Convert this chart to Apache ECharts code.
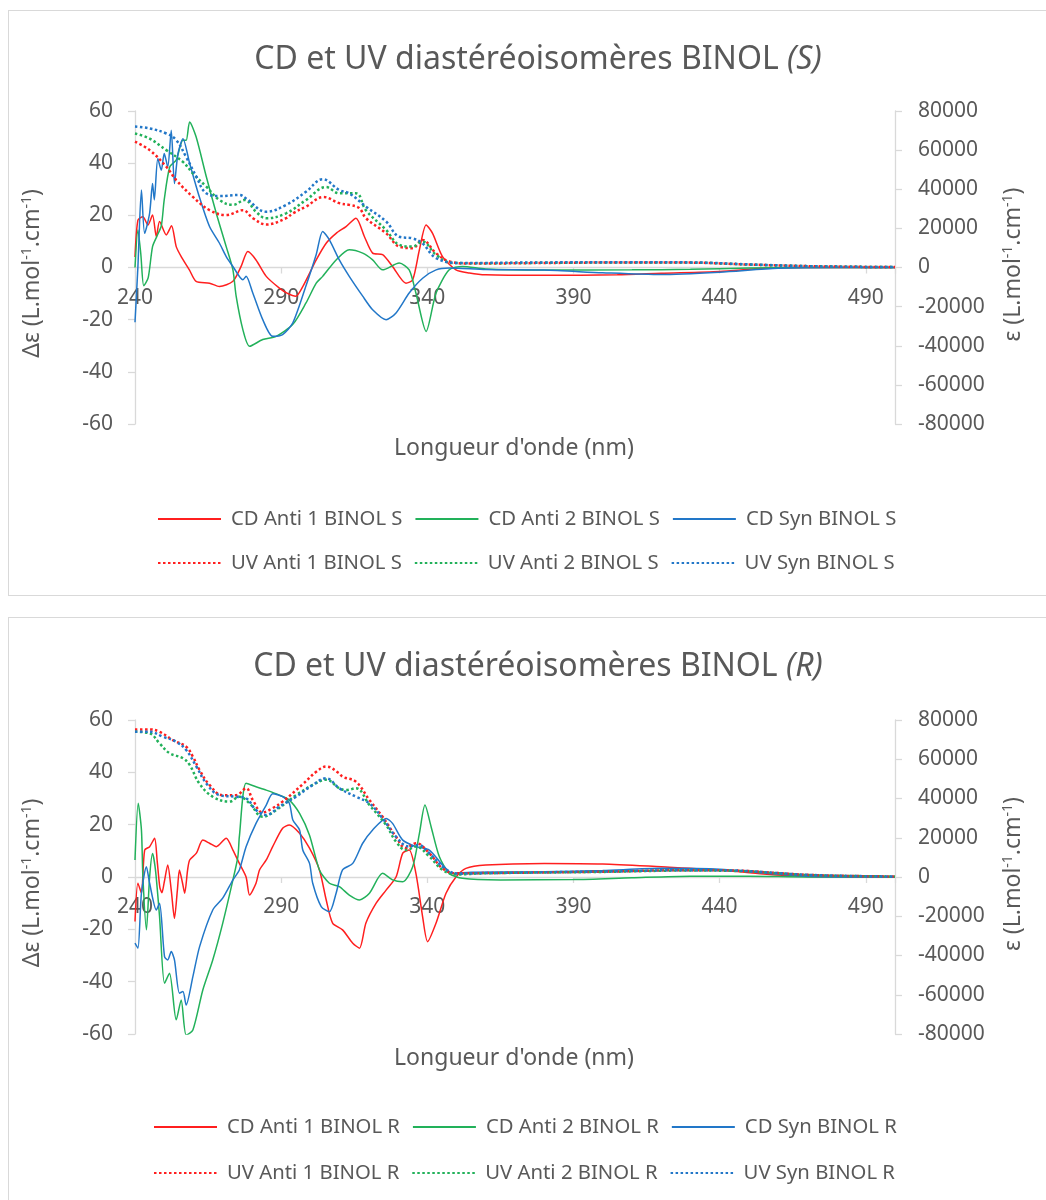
<!DOCTYPE html>
<html>
<head>
<meta charset="utf-8">
<script src="https://cdn.jsdelivr.net/npm/echarts@6/dist/echarts.min.js"></script>
<style>
  html, body { margin: 0; padding: 0; background: #ffffff; width: 1046px; height: 1200px; overflow: hidden; }
  .box { position: absolute; left: 8px; width: 1045px; box-sizing: border-box; border: 1px solid #D9D9D9; background: #fff; }
  #c1 { top: 10px; height: 586px; }
  #c2 { top: 617px; height: 600px; }
</style>
</head>
<body>
<div id="c1" class="box"></div>
<div id="c2" class="box"></div>
<script>
// ---------- DATA (wavelength nm, value) ----------
// Chart S : CD in Δε (left axis), UV in ε (right axis)
const cdAnti1S = [[240,4],[241,18.2],[242.7,19.5],[244.4,16.3],[246,20.1],[247.3,11.8],[248.4,17.6],[250.7,12.5],[252.5,16],[254.1,8],[255.8,4.2],[258.6,-0.9],[260.9,-5.3],[265.5,-6],[268.9,-7.3],[273.5,-5.3],[276.3,0.4],[278.6,6.1],[281.4,2.9],[284.9,-3.4],[289.4,-7.9],[292,-9.8],[295,-11],[297.4,-7.3],[302,2.9],[305.4,9.3],[308.8,13.1],[312.2,15.7],[315.6,18.9],[318.5,11.8],[321.3,5.5],[324.7,4.9],[328.1,0.4],[332.7,-6],[335,-4.7],[337.3,6.8],[339.6,16.3],[341.8,13.1],[345.2,4.2],[349.8,-0.9],[354.4,-2.1],[360,-2.8],[380,-3],[405,-2.8],[420,-2.2],[440,-1.5],[455,-0.3],[470,0],[500,0]];
const cdAnti2S = [[240,0],[241,14.4],[242,5],[243,-7],[244.5,-4],[246,8],[247.5,12],[249,16],[250,26],[251.9,38.6],[254.1,41.2],[256.4,48.8],[257.5,48.8],[258.7,55.8],[260.9,50.1],[264.4,34.8],[267.8,20.8],[271.2,8],[273.5,-0.9],[274.6,-11],[276.9,-23.8],[279.2,-30.2],[283.7,-27.6],[288.3,-26.4],[294,-21.8],[298.5,-13.6],[302,-6],[304.2,-3.4],[308.8,2.9],[313.3,6.8],[317.9,5.5],[321.3,2.9],[324.7,-0.9],[330.4,1.7],[333.8,-0.9],[336.1,-9.8],[339.6,-24.5],[343,-9.8],[347.5,-0.9],[352,0.4],[360,-0.6],[380,-1],[410,-0.9],[430,-0.7],[450,-0.2],[470,0],[500,0]];
const cdSynS = [[240,-21],[241,0.4],[242.2,29.7],[243.3,13.1],[245,20.8],[246,32.2],[246.6,25.9],[247.8,41.8],[249,37.3],[250,43.7],[251.2,38.6],[252.4,52.6],[253.5,32.2],[254.7,43.7],[256.4,49.4],[258.7,39.9],[262,27.1],[265.5,15.7],[268.9,9.3],[271.2,4.2],[273.5,0.4],[276.9,-4.7],[278,-3.4],[280.3,-9.8],[283.7,-20],[287.1,-26.4],[290.5,-25.7],[294,-21.2],[298.5,-7],[302,5],[304.2,13.8],[306.5,10.6],[309.9,2.9],[313.3,-3.4],[317.9,-11],[321.3,-16.2],[325.9,-20],[329.3,-17.4],[333.8,-9.8],[338.4,-4.1],[343,-0.9],[347.5,-0.2],[360,-0.8],[380,-1],[400,-2],[420,-2.7],[440,-1.8],[460,-0.3],[480,0],[500,0]];
const uvAnti1S = [[240,64300],[245,60000],[250.7,51500],[254.1,44700],[259.8,36100],[265.5,29300],[271.2,26800],[276.9,29300],[280.3,25200],[285,22000],[291.7,25200],[294,27700],[298.5,31100],[304.5,36000],[309.9,32900],[313.3,32000],[316.7,30400],[319,25200],[325.9,17500],[330.4,10700],[334.9,9900],[338.3,14100],[343,7300],[347.5,3100],[354.4,2000],[380,2300],[410,2600],[430,2500],[450,1500],[470,700],[490,300],[500,200]];
const uvAnti2S = [[240,68500],[245,65900],[250.7,60000],[256.4,54000],[259.8,48100],[264.4,41300],[268.9,34500],[273.5,32000],[277.5,34500],[281.4,28500],[284.9,25200],[291.7,27700],[298.5,34500],[305.4,41100],[309.9,37900],[315.6,37900],[319,29300],[325.9,19200],[330.4,11600],[334.9,10700],[338.3,13200],[343,6500],[348.6,2300],[360,2200],[380,2400],[410,2600],[430,2500],[450,1500],[470,700],[490,300],[500,200]];
const uvSynS = [[240,72100],[245,71100],[250.7,68500],[254.1,65100],[257.5,56500],[261,46400],[264.4,37900],[268.9,36500],[275.7,37100],[278,35300],[284.9,28500],[291.7,32000],[298.5,38700],[304.2,45100],[309.9,39600],[313.3,37900],[319,31100],[325.9,23500],[330.4,15700],[334.9,14900],[338.3,12400],[343,4800],[350.8,2300],[380,2600],[410,2700],[430,2600],[450,1600],[470,700],[490,300],[500,200]];

// Chart R
const cdAnti1R = [[240,-17],[241,-2.4],[242.2,-6.2],[243.3,10.3],[245,11.6],[246.7,14.8],[247.6,6],[248.5,-4],[249.2,-6],[250,-2],[251.2,4.6],[252.4,-5],[253.5,-15.8],[254.5,-5],[255.2,2.7],[256.2,-2],[257,-6.2],[258,2.7],[258.7,6.5],[261,9.1],[263.2,14.1],[265.5,12.9],[267.8,11.6],[271.2,14.8],[273.5,10.3],[275.7,5.2],[278,0],[279.2,-6.9],[281.4,-2.4],[282.6,2.7],[284.9,6.5],[287.1,11.6],[290.5,18.6],[292.8,19.9],[296.3,16.7],[299.7,11],[303.1,2.7],[305.4,-8.7],[307.6,-17.6],[311,-20.2],[314.5,-25.3],[316.8,-27.2],[319,-17.6],[322.5,-10],[325.9,-5],[329.3,0],[331.6,9.1],[333.8,10.3],[336.1,1.4],[338.4,-15.2],[340.1,-24.7],[343,-17.6],[346.4,-6.2],[349.8,0],[353.2,3.3],[360,4.6],[380,5.2],[400,5],[420,3.9],[440,2.7],[455,1.1],[470,0.2],[500,0]];
const cdAnti2R = [[240,6.5],[241.1,28.2],[242.2,18],[242.7,0],[243.9,-20.2],[245,0],[246,9],[247,2.7],[248.4,-15.2],[250.1,-40.6],[251.8,-36.8],[254.1,-54.6],[255.8,-47],[257.5,-60.4],[259.8,-58.5],[263.2,-43.2],[266.6,-31.7],[270,-17.7],[273.5,-1.1],[275.2,7.8],[275.7,15.4],[278,35.8],[281.4,34.5],[284.9,33.2],[289.4,31.3],[292.8,29.4],[296.3,24.3],[299.7,16],[303.1,2.7],[306.5,-2.4],[309.9,-3.7],[313.3,-6.9],[316.8,-8.8],[320.2,-6.2],[324.7,1.4],[328.1,-1.1],[331.6,-1.8],[335,3.9],[337.3,16.7],[339.2,27.5],[341.3,19.2],[344.1,7.8],[347.5,1.4],[352,-0.5],[365,-1.1],[390,-1],[410,-0.3],[430,0.3],[450,0.3],[470,0],[500,0]];
const cdSynR = [[240,-25.3],[241,-27.2],[242.2,-6.2],[243.9,3.9],[245,-2.4],[247.3,-12.6],[248.4,-10],[250.1,-30.4],[251.2,-31.7],[252.4,-28.5],[253.5,-31.7],[255.2,-44.4],[256.4,-43.8],[257.5,-48.9],[259.8,-38.1],[262.1,-26.6],[266.6,-12.6],[270,-8.1],[273.5,-1.1],[275.7,2.7],[278,11.6],[281.4,20.5],[284.9,27.5],[287.1,31.8],[290.5,30.7],[292.8,28.2],[294,21.8],[296.3,18],[297.4,10.3],[299.7,5.2],[300.8,-2.4],[303.7,-11.3],[306.5,-13.3],[308.8,-6.2],[311,2.7],[314.5,5.2],[317.9,12.9],[321.3,18],[325.9,22.4],[328.1,20.5],[331.6,14.1],[336.1,11.6],[340.7,10.3],[345.2,4.6],[348.6,1.4],[355,1.8],[380,2],[400,2.5],[420,3.3],[440,3],[455,1.5],[470,0.3],[500,0]];
const uvAnti1R = [[240,75200],[245,75200],[248.4,74000],[253,69700],[257.5,66400],[259.8,61300],[262.1,54500],[265.5,46900],[270,41700],[274.6,41700],[278,45200],[280.3,39200],[283.7,32900],[287.1,35100],[290.5,38400],[297.4,47300],[302,53600],[305.4,56300],[309.9,52800],[311,51100],[315.6,48500],[320.2,39200],[324.7,30700],[329.3,20500],[332.7,14700],[336.1,17200],[340.7,12100],[345.2,4400],[349.8,1900],[360,2000],[400,2700],[430,3500],[445,3300],[460,2000],[470,1100],[490,400],[500,300]];
const uvAnti2R = [[240,74000],[245,73200],[248.4,68100],[251.8,63100],[256.4,60500],[258.7,57100],[262,47700],[266.6,40900],[272.3,38400],[275.7,40900],[279.2,37500],[283.7,30700],[288.3,34100],[295.1,41700],[300.8,46900],[305.4,49600],[309.9,45200],[312.2,44300],[315.6,45200],[320.2,36700],[325.9,26500],[329.3,18000],[332.7,13700],[336.1,15500],[340.7,10400],[345.2,3600],[350,1300],[360,1900],[400,2600],[430,3300],[445,3100],[460,1900],[470,1000],[490,400],[500,300]];
const uvSynR = [[240,74000],[245,74000],[249.5,71500],[254.1,68900],[257.5,64700],[261,56300],[264.4,47700],[268.9,41700],[274.6,40900],[278,40100],[281.4,34100],[284.9,31600],[289.4,35900],[295.1,40900],[300.8,46900],[305.4,50300],[309.9,45200],[315.6,40900],[320.2,37500],[324.7,29900],[329.3,20500],[333.8,15500],[336.9,16300],[340.7,12100],[345.9,4400],[350.8,1700],[360,2000],[400,2800],[430,3500],[445,3300],[460,2000],[470,1100],[490,400],[500,300]];

// tick values
const xTicks = { min: 240, max: 500, interval: 50 };
const leftTicks = { min: -60, max: 60, interval: 20 };
const rightTicks = { min: -80000, max: 80000, interval: 20000 };

// ---------- STYLE ----------
const FONT = '"Noto Sans", "DejaVu Sans", sans-serif';
const GRAY = '#595959';
const AXIS = '#D9D9D9';
const RED = '#FF1F1F', GREEN = '#22B15A', BLUE = '#2277C8';

function build(el, suffix, cd, uv, gridTop, gridHeight, legendLeft, legendTops) {
  const chart = echarts.init(el, null, { renderer: 'canvas' });
  const names = [
    'CD Anti 1 BINOL ' + suffix, 'CD Anti 2 BINOL ' + suffix, 'CD Syn BINOL ' + suffix,
    'UV Anti 1 BINOL ' + suffix, 'UV Anti 2 BINOL ' + suffix, 'UV Syn BINOL ' + suffix
  ];
  const colors = [RED, GREEN, BLUE];
  const series = [];
  cd.forEach((d, i) => series.push({
    name: names[i], type: 'line', data: d, yAxisIndex: 0, showSymbol: false, symbol: 'none',
    smooth: 0.25, lineStyle: { color: colors[i], width: 1.5 }, itemStyle: { color: colors[i] }, z: 2
  }));
  uv.forEach((d, i) => series.push({
    name: names[3 + i], type: 'line', data: d, yAxisIndex: 1, showSymbol: false, symbol: 'none',
    smooth: 0.4, lineStyle: { color: colors[i], width: 2.5, type: [2.5, 2.5] }, itemStyle: { color: colors[i] }, z: 3
  }));
  const labelStyle = { color: GRAY, fontFamily: FONT, fontSize: 21 };
  const legendCommon = {
    left: legendLeft, padding: 0, itemWidth: 63, itemHeight: 14, itemGap: 12,
    itemStyle: { opacity: 0 },
    textStyle: { color: GRAY, fontFamily: FONT, fontSize: 20.3, padding: [0, 0, 0, 5] },
    selectedMode: false
  };
  const supRich = {
    n: { fontFamily: FONT, fontSize: 23, fill: GRAY, verticalAlign: 'bottom' },
    s: { fontFamily: FONT, fontSize: 14, fill: GRAY, verticalAlign: 'top' }
  };
  const gx = 126;
  chart.setOption({
    animation: false,
    title: {
      text: '{n|CD et UV diastéréoisomères BINOL }{i|(' + suffix + ')}',
      left: 524, top: 28, textAlign: 'center',
      textStyle: {
        fontWeight: 'normal',
        rich: {
          n: { fontFamily: FONT, fontSize: 32, color: GRAY, fontWeight: 'normal' },
          i: { fontFamily: FONT, fontSize: 32, color: GRAY, fontWeight: 'normal', fontStyle: 'italic' }
        }
      }
    },
    legend: [
      Object.assign({}, legendCommon, { top: legendTops[0], data: names.slice(0, 3) }),
      Object.assign({}, legendCommon, { top: legendTops[1], data: names.slice(3) })
    ],
    grid: { left: gx, top: gridTop, width: 760, height: gridHeight, containLabel: false },
    xAxis: {
      type: 'value', min: xTicks.min, max: xTicks.max, interval: xTicks.interval,
      position: 'bottom', offset: -gridHeight / 2,
      axisLine: { show: true, onZero: false, lineStyle: { color: AXIS, width: 1.3 } },
      axisTick: { show: true, length: 6, lineStyle: { color: AXIS, width: 1.3 } },
      splitLine: { show: false },
      axisLabel: Object.assign({}, labelStyle, {
        margin: 20,
        formatter: v => ((v - xTicks.min) % xTicks.interval === 0 && v < xTicks.max) ? String(v) : ''
      })
    },
    yAxis: [
      {
        type: 'value', min: leftTicks.min, max: leftTicks.max, interval: leftTicks.interval, position: 'left',
        axisLine: { show: true, onZero: false, lineStyle: { color: AXIS, width: 1.3 } },
        axisTick: { show: true, length: 7, lineStyle: { color: AXIS, width: 1.3 } },
        splitLine: { show: false },
        axisLabel: Object.assign({}, labelStyle, { margin: 22, formatter: v => String(v) })
      },
      {
        type: 'value', min: rightTicks.min, max: rightTicks.max, interval: rightTicks.interval, position: 'right',
        axisLine: { show: true, onZero: false, lineStyle: { color: AXIS, width: 1.3 } },
        axisTick: { show: true, length: 7, lineStyle: { color: AXIS, width: 1.3 } },
        splitLine: { show: false },
        axisLabel: Object.assign({}, labelStyle, { margin: 23, formatter: v => String(v) })
      }
    ],
    graphic: [
      {
        type: 'text', x: 23, y: gridTop + gridHeight / 2 + 6, rotation: Math.PI / 2,
        style: { text: '{n|Δε (L.mol}{s|-1}{n|.cm}{s|-1}{n|)}', align: 'center', verticalAlign: 'middle', rich: supRich }
      },
      {
        type: 'text', x: 1004, y: gridTop + gridHeight / 2 - 3, rotation: Math.PI / 2,
        style: { text: '{n|ε (L.mol}{s|-1}{n|.cm}{s|-1}{n|)}', align: 'center', verticalAlign: 'middle', rich: supRich }
      },
      {
        type: 'text', x: 505, y: gridTop + gridHeight + 24,
        style: { text: "Longueur d'onde (nm)", fontFamily: FONT, fontSize: 23, fill: GRAY, align: 'center', verticalAlign: 'middle' }
      }
    ],
    series: series
  });
  return chart;
}

build(document.getElementById('c1'), 'S', [cdAnti1S, cdAnti2S, cdSynS], [uvAnti1S, uvAnti2S, uvSynS], 100, 313, 148, [498, 542]);
build(document.getElementById('c2'), 'R', [cdAnti1R, cdAnti2R, cdSynR], [uvAnti1R, uvAnti2R, uvSynR], 102, 314, 144, [499, 545]);
</script>
</body>
</html>
